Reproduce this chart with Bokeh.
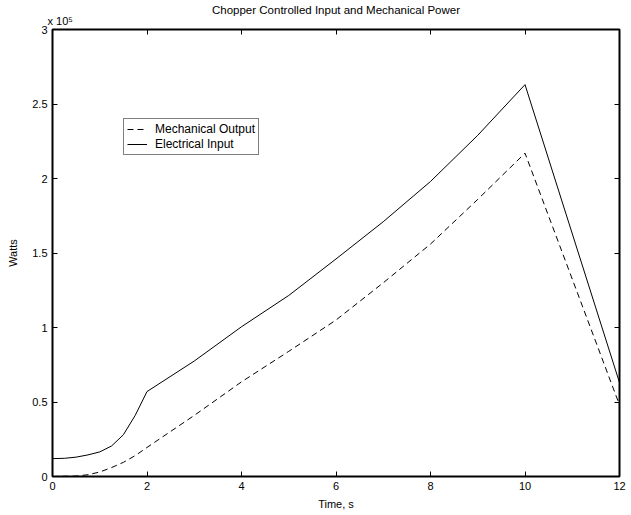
from bokeh.plotting import figure
from bokeh.models import LinearAxis, FixedTicker, Legend, LegendItem, Range1d
from bokeh.embed import file_html
from bokeh.resources import INLINE

# Data (power in units of 1e5 W, as shown on the axis)
t_elec = [0, 0.25, 0.5, 0.75, 1.0, 1.25, 1.5, 1.75, 2.0, 3, 4, 5, 6, 7, 8, 9, 10, 12]
p_elec = [0.12, 0.122, 0.13, 0.145, 0.165, 0.205, 0.28, 0.41, 0.57, 0.775, 1.005, 1.215,
          1.46, 1.71, 1.98, 2.29, 2.63, 0.63]

t_mech = [0, 0.5, 0.75, 1.0, 1.25, 1.5, 1.75, 2.0, 3, 4, 5, 6, 7, 8, 9, 10, 12]
p_mech = [0.0, 0.003, 0.012, 0.03, 0.06, 0.095, 0.14, 0.195, 0.41, 0.635, 0.84, 1.05,
          1.30, 1.56, 1.86, 2.17, 0.48]

x_ticks = [0, 2, 4, 6, 8, 10, 12]
y_ticks = [0, 0.5, 1, 1.5, 2, 2.5, 3]
y_tick_labels = {0: "0", 0.5: "0.5", 1: "1", 1.5: "1.5", 2: "2", 2.5: "2.5", 3: "3"}

FONT = "Liberation Sans"

p = figure(width=631, height=515, output_backend="svg", toolbar_location=None,
           x_range=Range1d(0, 12), y_range=Range1d(0, 3),
           min_border_left=52, min_border_right=12, min_border_top=29, min_border_bottom=39,
           title="Chopper Controlled Input and Mechanical Power",
           x_axis_label="Time, s", y_axis_label="Watts")

p.title.align = "center"
p.title.text_font = FONT
p.title.text_font_size = "11.5px"
p.title.text_font_style = "normal"
p.title.text_color = "black"
p.title.standoff = -8

p.xgrid.visible = False
p.ygrid.visible = False
p.outline_line_color = "black"
p.outline_line_width = 2
p.background_fill_color = "white"
p.border_fill_color = "white"

ax_top = LinearAxis(axis_label="\u00a0\u00a0\u00a0\u00a0\u00a0x 10\u2075")
ax_right = LinearAxis()
p.add_layout(ax_top, "above")
p.add_layout(ax_right, "right")

for ax in p.xaxis:
    ax.ticker = FixedTicker(ticks=x_ticks)
for ax in p.yaxis:
    ax.ticker = FixedTicker(ticks=y_ticks)
    ax.major_label_overrides = y_tick_labels

for ax in p.xaxis + p.yaxis:
    ax.axis_line_color = "black"
    ax.axis_line_width = 1
    ax.major_tick_in = 5
    ax.major_tick_out = 0
    ax.minor_tick_line_color = None
    ax.major_tick_line_color = "black"
    ax.major_label_text_font = FONT
    ax.major_label_text_font_size = "11px"
    ax.major_label_text_color = "black"
    ax.axis_label_text_font = FONT
    ax.axis_label_text_font_size = "11px"
    ax.axis_label_text_font_style = "normal"
    ax.axis_label_text_color = "black"
    ax.major_label_standoff = 5

p.xaxis[0].axis_label_standoff = 7
p.yaxis[0].axis_label_standoff = 10

for ax in (ax_top, ax_right):
    ax.major_label_text_color = None
    ax.major_label_standoff = 0

ax_top.axis_label_align = "start"
ax_top.axis_label_standoff = 3

r_mech = p.line(t_mech, p_mech, line_color="black", line_width=1, line_dash="6 4")
r_elec = p.line(t_elec, p_elec, line_color="black", line_width=1)

legend = Legend(items=[LegendItem(label="Mechanical Output", renderers=[r_mech]),
                       LegendItem(label="Electrical Input", renderers=[r_elec])],
                location=(71, 321))
legend.border_line_color = "black"
legend.border_line_width = 1
legend.background_fill_color = "white"
legend.background_fill_alpha = 1
legend.label_text_font = FONT
legend.label_text_font_size = "12px"
legend.label_text_color = "black"
legend.glyph_width = 20
legend.glyph_height = 12
legend.label_height = 12
legend.label_standoff = 8
legend.spacing = 1
legend.padding = 3
legend.margin = 0
legend.label_text_line_height = 1.0
p.add_layout(legend, "center")

open("out.html", "w").write(file_html(p, INLINE))
